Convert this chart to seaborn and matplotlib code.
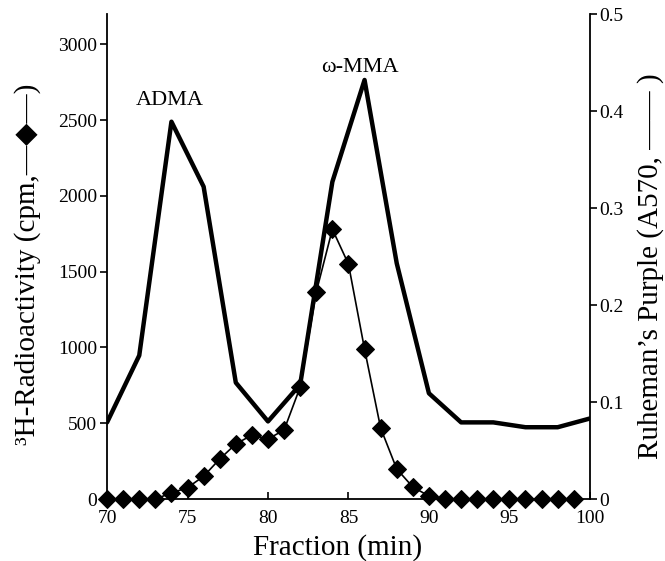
import pandas as pd
import seaborn as sns
import matplotlib.pyplot as plt

# 3H radioactivity, one reading per fraction
fraction_cpm = list(range(70, 100))
cpm = [0, 0, 0, 0, 40, 75, 150, 264, 363, 422,
       396, 455, 739, 1366, 1780, 1550, 989, 468, 198, 79,
       20, 0, 0, 0, 0, 0, 0, 0, 0, 0]

# Ruheman's purple absorbance, every second fraction
fraction_a570 = list(range(70, 101, 2))
a570 = [0.079, 0.148, 0.389, 0.322, 0.120, 0.080, 0.118, 0.327,
        0.432, 0.243, 0.109, 0.079, 0.079, 0.074, 0.074, 0.083]

peak_labels = ['ADMA', 'ω-MMA']
peak_x = [73.9, 85.7]
peak_y = [2630, 2850]

df_cpm = pd.DataFrame({'fraction': fraction_cpm, 'cpm': cpm})
df_a570 = pd.DataFrame({'fraction': fraction_a570, 'a570': a570})

sns.set_style("ticks", {'axes.edgecolor': 'black', 'text.color': 'black',
                        'xtick.color': 'black', 'ytick.color': 'black',
                        'axes.labelcolor': 'black'})
plt.rcParams['font.family'] = ['Liberation Serif', 'DejaVu Sans']

fig, ax = plt.subplots(figsize=(6.65, 5.61), dpi=100)
ax2 = ax.twinx()

sns.lineplot(data=df_a570, x='fraction', y='a570', ax=ax2, color='black', lw=3.2)
sns.lineplot(data=df_cpm, x='fraction', y='cpm', ax=ax, color='black', lw=1.2,
             marker='D', markersize=9, markeredgecolor='black', clip_on=False)

# radioactivity trace on top of the absorbance trace
ax.set_zorder(ax2.get_zorder() + 1)
ax.patch.set_visible(False)

ax.set_xlim(70, 100)
ax.set_xticks(range(70, 101, 5))
ax.set_ylim(0, 3200)
ax.set_yticks(range(0, 3001, 500))
ax2.set_ylim(0, 0.5)
ax2.set_yticks([0, 0.1, 0.2, 0.3, 0.4, 0.5])
ax2.set_yticklabels(['0', '0.1', '0.2', '0.3', '0.4', '0.5'])

for a in (ax, ax2):
    a.spines['top'].set_visible(False)
    for s in a.spines.values():
        s.set_linewidth(1.3)
    a.tick_params(labelsize=14, width=1.2, length=5, pad=2)
ax.spines['right'].set_visible(False)
ax2.spines['left'].set_visible(False)
ax2.spines['bottom'].set_visible(False)
ax.tick_params(axis='x', direction='in', pad=8)

ax.set_xlabel('')
ax.set_ylabel('')
ax2.set_ylabel('')
fig.text(0.508, 0.024, 'Fraction (min)', fontsize=21, ha='center', va='center')
fig.text(0.041, 0.529, '³H-Radioactivity (cpm,—◆—)', fontsize=21,
         rotation=90, ha='center', va='center')
fig.text(0.978, 0.525, 'Ruheman’s Purple (A570, —— )', fontsize=21,
         rotation=90, ha='center', va='center')

for lab, x, y in zip(peak_labels, peak_x, peak_y):
    ax.text(x, y, lab, ha='center', va='center', fontsize=16)

fig.subplots_adjust(left=0.161, right=0.887, top=0.975, bottom=0.1105)
fig.savefig('out.png', dpi=100)
